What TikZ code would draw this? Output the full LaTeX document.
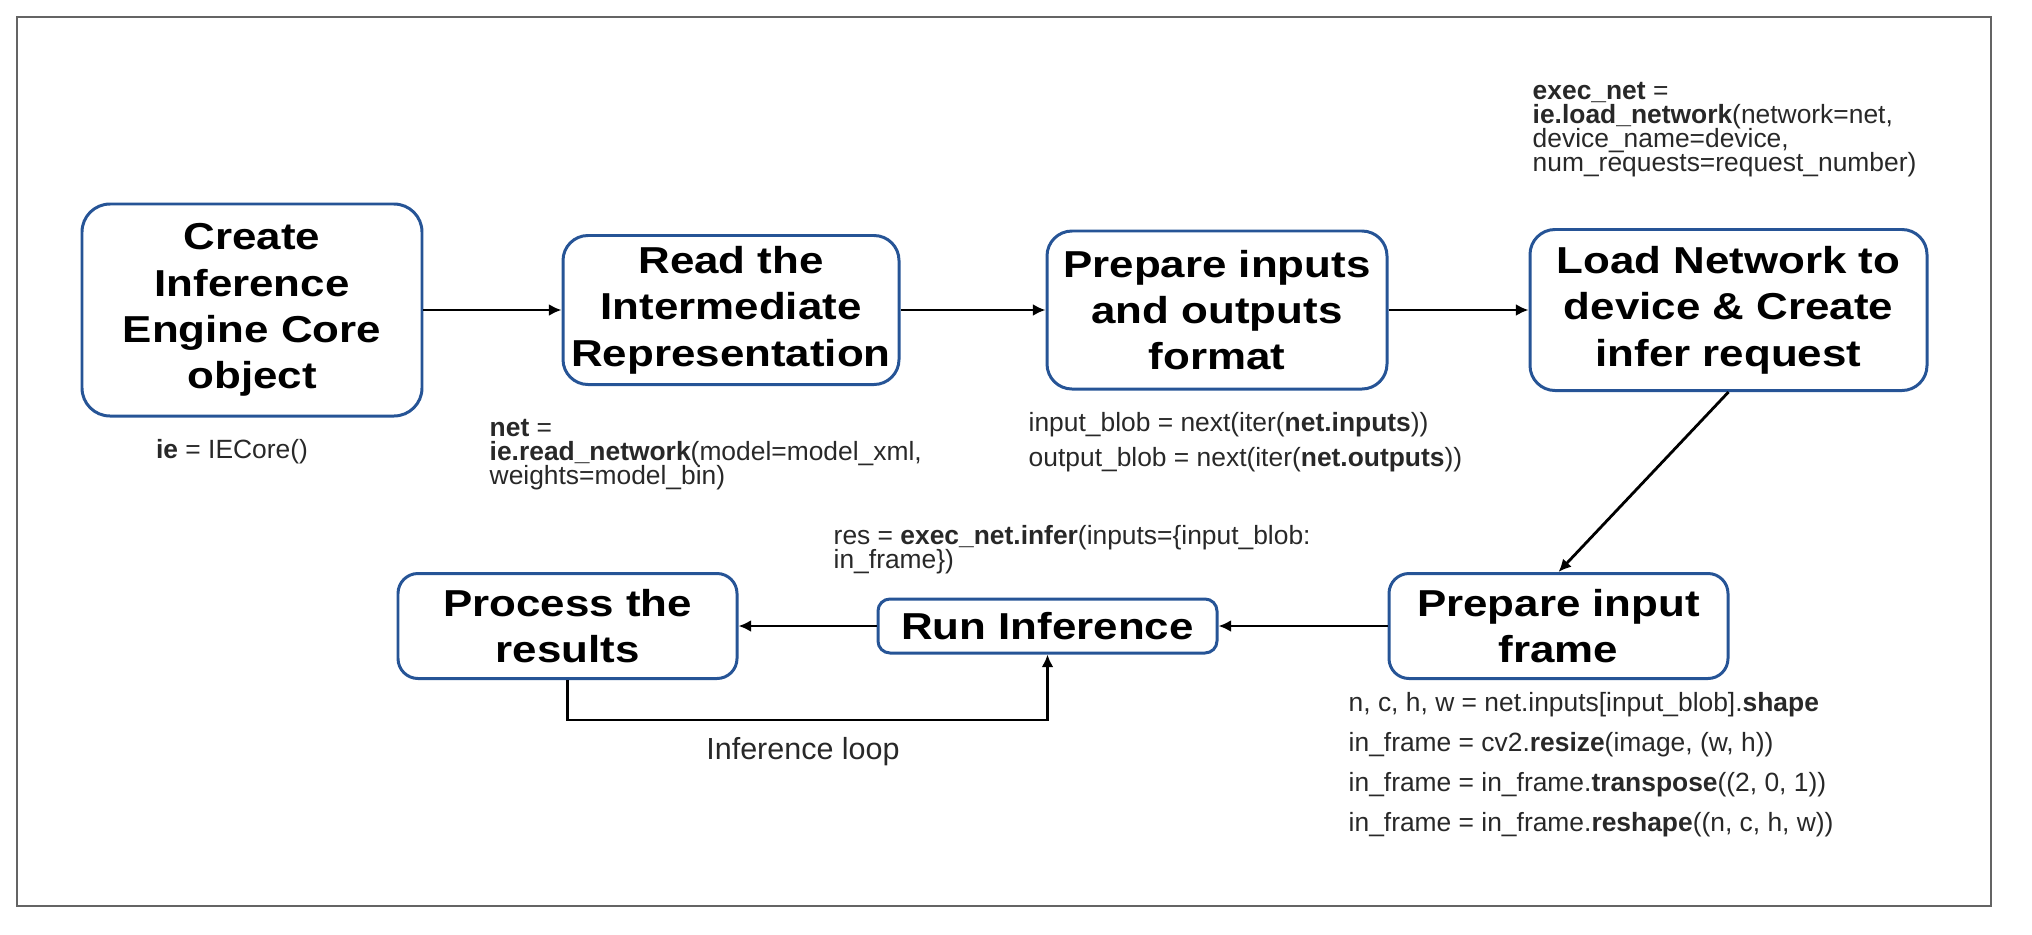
\documentclass[tikz,border=0pt]{standalone}
\usepackage{fontspec}
\setmainfont{Liberation Sans}
\newfontfamily\titlefont{Liberation Sans}[FakeStretch=1.17]
\usetikzlibrary{arrows.meta}
\definecolor{colBOX}{RGB}{38,84,150}
\definecolor{colCODE}{RGB}{40,40,40}
\definecolor{colFRAME}{RGB}{100,100,100}

\begin{document}
\begin{tikzpicture}[
    stage/.style={draw=colBOX, line width=0.85pt, rounded corners=0.25cm, align=center, inner sep=0pt,
      font=\titlefont\bfseries\fontsize{10.67}{13.2}\selectfont},
    code/.style={anchor=west, align=left, inner sep=0pt, text=colCODE,
      font={\fontsize{7.51}{6.83}\selectfont\lineskiplimit=-5pt}},
    flow/.style={line width=0.8pt, -{Latex[length=3.6pt,width=3.4pt]}}
  ]
  \useasboundingbox (0,0) rectangle (20.32,9.34);
  \draw[colFRAME, line width=0.8pt] (0.17,0.28) rectangle (19.91,9.17);
  % --- top row: setup steps ---
  \node[stage, minimum width=3.40cm, minimum height=2.12cm, rounded corners=0.28cm] (create) at (2.52,6.24) {Create\\Inference\\Engine Core\\object};
  \node[stage, minimum width=3.36cm, minimum height=1.49cm] (readir) at (7.31,6.24) {Read the\\Intermediate\\Representation};
  \node[stage, minimum width=3.40cm, minimum height=1.58cm] (prep) at (12.17,6.24) {Prepare inputs\\and outputs\\format};
  \node[stage, minimum width=3.97cm, minimum height=1.61cm] (load) at (17.285,6.24) {Load Network to\\device \& Create\\infer request};
  \node[code, anchor=center] (createcode) at (2.32,4.82) {\textbf{ie} = IECore()};
  \node[code] (readcode) at (4.89,4.79) {\textbf{net} =\\\textbf{ie.read\_network}(model=model\_xml,\\weights=model\_bin)};
  \node[code, font={\fontsize{7.51}{9.96}\selectfont}] (prepcode) at (10.28,4.915) {input\_blob = next(iter(\textbf{net.inputs}))\\output\_blob = next(iter(\textbf{net.outputs}))};
  \node[code] (loadcode) at (15.32,8.045) {\textbf{exec\_net} =\\\textbf{ie.load\_network}(network=net,\\device\_name=device,\\num\_requests=request\_number)};
  % --- bottom row: inference ---
  \node[stage, minimum width=3.39cm, minimum height=1.05cm, rounded corners=0.2cm] (frame) at (15.585,3.08) {Prepare input\\frame};
  \node[stage, minimum width=3.39cm, minimum height=0.54cm, rounded corners=0.12cm] (run) at (10.475,3.08) {Run Inference};
  \node[stage, minimum width=3.39cm, minimum height=1.05cm, rounded corners=0.2cm] (process) at (5.675,3.08) {Process the\\results};
  \node[code, font={\fontsize{7.51}{11.38}\selectfont}] (framecode) at (13.48,1.69) {n, c, h, w = net.inputs[input\_blob].\textbf{shape}\\in\_frame = cv2.\textbf{resize}(image, (w, h))\\in\_frame = in\_frame.\textbf{transpose}((2, 0, 1))\\in\_frame = in\_frame.\textbf{reshape}((n, c, h, w))};
  \node[code] (runcode) at (8.33,3.84) {res = \textbf{exec\_net.infer}(inputs=\{input\_blob:\\in\_frame\})};
  \node[code, anchor=center, font=\fontsize{8.68}{10}\selectfont] (looplabel) at (8.03,1.82) {Inference loop};
  % --- connectors ---
  \draw[flow] (create) -- (readir);
  \draw[flow] (readir) -- (prep);
  \draw[flow] (prep) -- (load);
  \draw[flow] (load.south) -- (frame.north);
  \draw[flow] (frame) -- (run);
  \draw[flow] (run) -- (process);
  \draw[flow] (process.south) -- ++(0,-0.4) -| (run.south);
\end{tikzpicture}
\end{document}
